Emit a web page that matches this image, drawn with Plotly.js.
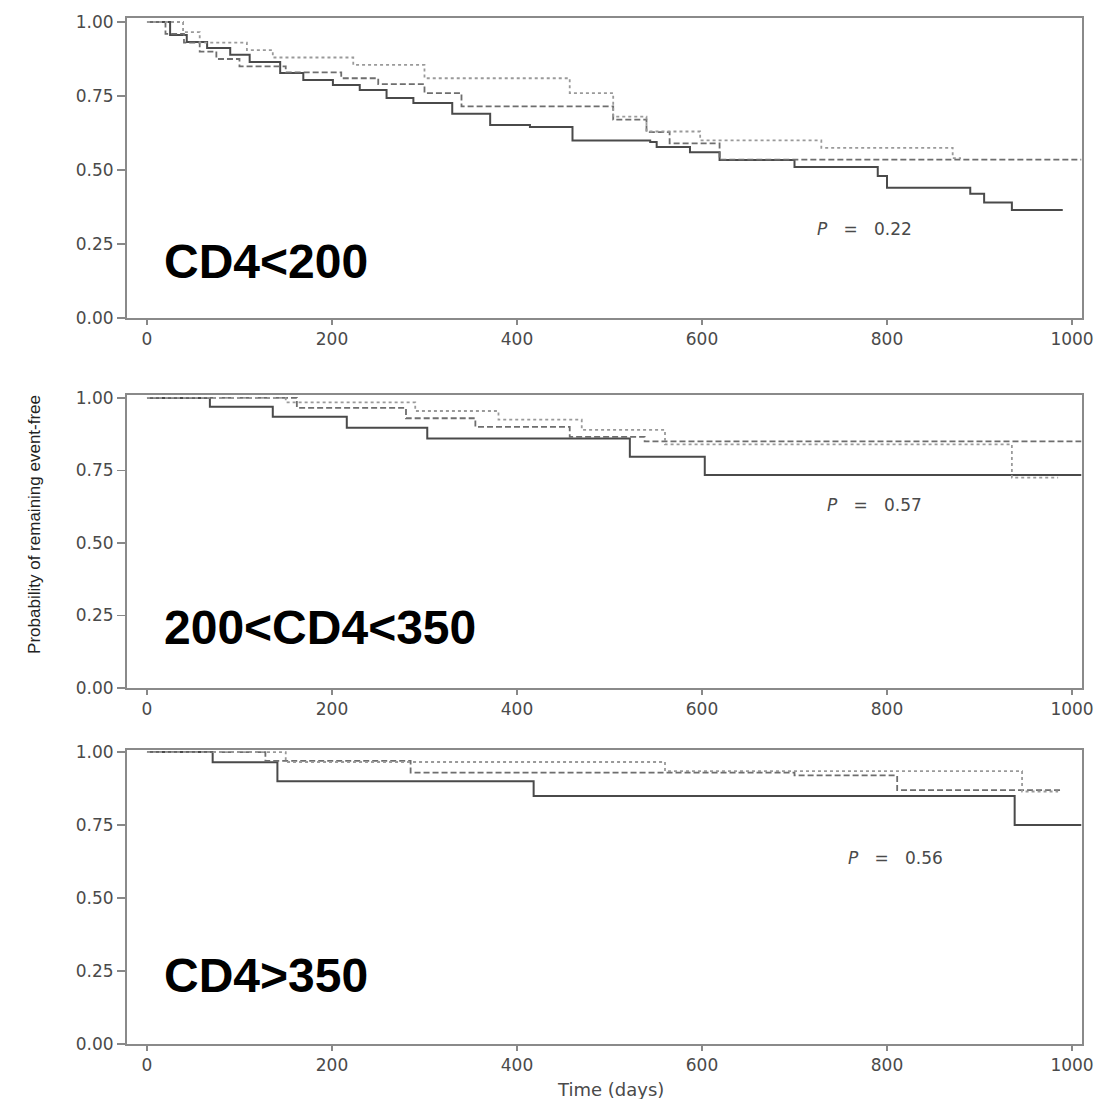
<!DOCTYPE html>
<html>
<head>
<meta charset="utf-8">
<script src="https://cdn.plot.ly/plotly-3.0.1.min.js"></script>
<style>
  html, body { margin: 0; padding: 0; background: #ffffff; }
  #chart { width: 1094px; height: 1099px; }
</style>
</head>
<body>
<div id="chart"></div>
<script>
// ---------- data (time in days, probability of remaining event-free) ----------
const panelLabels = ["CD4<200", "200<CD4<350", "CD4>350"];
const pValues = ["0.22", "0.57", "0.56"];
const xTicks = [0, 200, 400, 600, 800, 1000];
const yTicks = [0, 0.25, 0.5, 0.75, 1.0];
const yTickText = ["0.00", "0.25", "0.50", "0.75", "1.00"];

// Panel 1: CD4<200
const p1SolidT  = [0, 25, 43, 65, 90, 111, 144, 169, 201, 230, 259, 288, 330, 371, 414, 460, 544, 551, 587, 619, 700, 790, 800, 890, 905, 935, 990];
const p1SolidS  = [1, 0.956, 0.932, 0.912, 0.889, 0.865, 0.828, 0.804, 0.787, 0.77, 0.743, 0.726, 0.69, 0.652, 0.645, 0.60, 0.595, 0.578, 0.56, 0.534, 0.51, 0.48, 0.44, 0.42, 0.39, 0.365, 0.365];
const p1DashT   = [0, 20, 40, 57, 75, 100, 150, 210, 250, 300, 340, 504, 540, 565, 619, 1010];
const p1DashS   = [1, 0.96, 0.93, 0.90, 0.875, 0.85, 0.83, 0.81, 0.79, 0.76, 0.715, 0.67, 0.628, 0.59, 0.535, 0.535];
const p1DotT    = [0, 39, 57, 108, 136, 223, 300, 457, 504, 540, 598, 729, 871, 880];
const p1DotS    = [1, 0.966, 0.93, 0.905, 0.88, 0.855, 0.81, 0.76, 0.68, 0.63, 0.60, 0.575, 0.54, 0.54];

// Panel 2: 200<CD4<350
const p2SolidT  = [0, 68, 136, 216, 303, 522, 603, 1010];
const p2SolidS  = [1, 0.97, 0.935, 0.897, 0.86, 0.797, 0.734, 0.734];
const p2DashT   = [0, 162, 280, 355, 457, 538, 1010];
const p2DashS   = [1, 0.966, 0.93, 0.90, 0.866, 0.85, 0.85];
const p2DotT    = [0, 150, 290, 380, 470, 560, 935, 985];
const p2DotS    = [1, 0.985, 0.955, 0.925, 0.89, 0.84, 0.725, 0.725];

// Panel 3: CD4>350
const p3SolidT  = [0, 71, 141, 418, 938, 1010];
const p3SolidS  = [1, 0.965, 0.90, 0.85, 0.75, 0.75];
const p3DashT   = [0, 128, 285, 700, 811, 990];
const p3DashS   = [1, 0.97, 0.93, 0.92, 0.87, 0.87];
const p3DotT    = [0, 150, 560, 946, 985];
const p3DotS    = [1, 0.966, 0.935, 0.865, 0.865];

// ---------- styles ----------
const styles = {
  solid: {color: "#4a4a4a", width: 2, dash: "solid"},
  dash:  {color: "#6e6e6e", width: 1.8, dash: "6px,3px"},
  dot:   {color: "#9a9a9a", width: 1.8, dash: "dot"}
};

function km(t, s, style, xa, ya) {
  return {
    type: "scatter", mode: "lines", x: t, y: s,
    line: Object.assign({shape: "hv"}, styles[style]),
    xaxis: xa, yaxis: ya, showlegend: false, hoverinfo: "skip"
  };
}

const data = [
  km(p1SolidT, p1SolidS, "solid", "x", "y"),
  km(p1DashT, p1DashS, "dash", "x", "y"),
  km(p1DotT, p1DotS, "dot", "x", "y"),
  km(p2SolidT, p2SolidS, "solid", "x2", "y2"),
  km(p2DashT, p2DashS, "dash", "x2", "y2"),
  km(p2DotT, p2DotS, "dot", "x2", "y2"),
  km(p3SolidT, p3SolidS, "solid", "x3", "y3"),
  km(p3DashT, p3DashS, "dash", "x3", "y3"),
  km(p3DotT, p3DotS, "dot", "x3", "y3")
];

const tickFont = {family: "DejaVu Sans, sans-serif", size: 17, color: "#4a4a4a"};

function xAxis(anchor) {
  return {
    anchor: anchor, domain: [0, 1], range: [-21.6, 1010.8],
    tickvals: xTicks, ticktext: xTicks.map(String),
    ticks: "outside", ticklen: 5, tickwidth: 1.5, tickcolor: "#888",
    ticklabeloverflow: "allow",
    showline: true, linecolor: "#8a8a8a", linewidth: 2, mirror: true,
    showgrid: false, zeroline: false, tickfont: tickFont
  };
}
function yAxis(anchor, domain, top) {
  return {
    anchor: anchor, domain: domain, range: [0, top],
    tickvals: yTicks, ticktext: yTickText,
    ticks: "outside", ticklen: 8, tickwidth: 1.5, tickcolor: "#888",
    ticklabeloverflow: "allow",
    showline: true, linecolor: "#8a8a8a", linewidth: 2, mirror: true,
    showgrid: false, zeroline: false, tickfont: tickFont
  };
}

const labelFont = {family: "Liberation Sans, Arial, sans-serif", size: 48, color: "#000"};
const pFont = {family: "DejaVu Sans, sans-serif", size: 17, color: "#4a4a4a"};
const pSep = "&nbsp;&nbsp;&nbsp;=&nbsp;&nbsp;&nbsp;";

const annotations = [
  {xref: "x", yref: "y", x: 16, y: 0.19, text: "<b>" + panelLabels[0] + "</b>", showarrow: false, xanchor: "left", yanchor: "middle", font: labelFont},
  {xref: "x2", yref: "y2", x: 16, y: 0.207, text: "<b>" + panelLabels[1] + "</b>", showarrow: false, xanchor: "left", yanchor: "middle", font: labelFont},
  {xref: "x3", yref: "y3", x: 16, y: 0.236, text: "<b>" + panelLabels[2] + "</b>", showarrow: false, xanchor: "left", yanchor: "middle", font: labelFont},
  {xref: "x", yref: "y", x: 776, y: 0.30, text: "<i>P</i>" + pSep + pValues[0], showarrow: false, font: pFont},
  {xref: "x2", yref: "y2", x: 787, y: 0.63, text: "<i>P</i>" + pSep + pValues[1], showarrow: false, font: pFont},
  {xref: "x3", yref: "y3", x: 809, y: 0.637, text: "<i>P</i>" + pSep + pValues[2], showarrow: false, font: pFont},
  {xref: "paper", yref: "paper", x: -0.0963, y: 0.506, textangle: -90, text: "Probability of remaining event-free", showarrow: false, xanchor: "center", yanchor: "middle", font: {family: "Liberation Sans, Arial, sans-serif", size: 17, color: "#222"}},
  {xref: "paper", yref: "paper", x: 0.506, y: -0.0448, text: "Time (days)", showarrow: false, xanchor: "center", yanchor: "middle", font: {family: "DejaVu Sans, sans-serif", size: 18, color: "#4a4a4a"}}
];

const layout = {
  width: 1094, height: 1099,
  margin: {l: 127, r: 12, t: 18, b: 55},
  paper_bgcolor: "#ffffff", plot_bgcolor: "#ffffff",
  showlegend: false,
  xaxis: xAxis("y"),
  yaxis: yAxis("x", [0.7076, 1.0], 1.0135),
  xaxis2: xAxis("y2"),
  yaxis2: yAxis("x2", [0.347, 0.6326], 1.0103),
  xaxis3: xAxis("y3"),
  yaxis3: yAxis("x3", [0, 0.2865], 1.007),
  annotations: annotations
};

Plotly.newPlot("chart", data, layout, {staticPlot: true, displayModeBar: false});
</script>
</body>
</html>
